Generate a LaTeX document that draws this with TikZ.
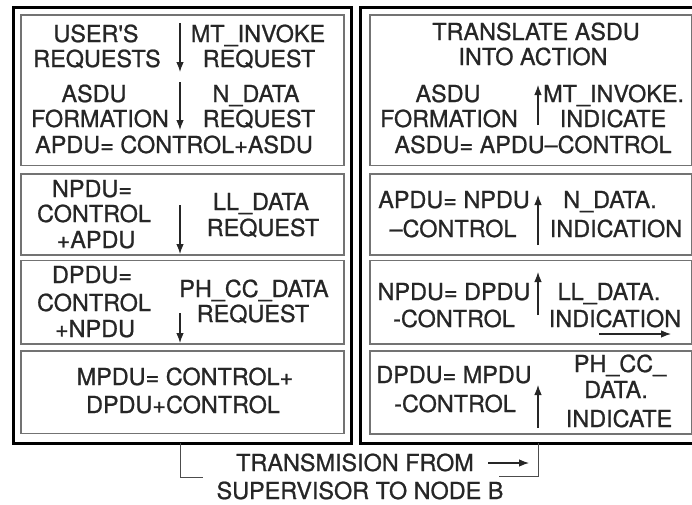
\documentclass[tikz,border=0pt]{standalone}
\usepackage{fontspec}
\setmainfont{TeX Gyre Heros}[RawFeature={embolden=0.9}]
\usetikzlibrary{arrows.meta}
\begin{document}
\begin{tikzpicture}[x=1pt,y=-1pt,
  lbl/.style={anchor=base, inner sep=0pt, font=\fontsize{23.4}{25}\selectfont, text=black!85},
  frame/.style={draw=black, line width=3pt, anchor=north west, inner sep=0pt},
  pane/.style={draw=black!55, line width=1.6pt, anchor=north west, inner sep=0pt},
  flow/.style={draw=black!85, line width=1.1pt, -{Latex[length=10pt,width=7.5pt]}},
  wire/.style={draw=black!70, line width=1pt}]
\useasboundingbox (0,0) rectangle (692,504);
% outer frames
\node[frame, minimum width=337.5pt, minimum height=436pt] (FL) at (12,5.5) {};
\node[frame, minimum width=345pt, minimum height=436pt] (FR) at (358.5,5.5) {};
% left panes
\node[pane, minimum width=323pt, minimum height=150.5pt] (L1) at (20,14) {};
\node[pane, minimum width=323pt, minimum height=81pt] (L2) at (20,173) {};
\node[pane, minimum width=323pt, minimum height=83.5pt] (L3) at (20,259.5) {};
\node[pane, minimum width=323pt, minimum height=82.5pt] (L4) at (20,350) {};
% right panes
\node[pane, minimum width=321.5pt, minimum height=150.5pt] (R1) at (369,14) {};
\node[pane, minimum width=321.5pt, minimum height=81pt] (R2) at (369,173) {};
\node[pane, minimum width=321.5pt, minimum height=83.5pt] (R3) at (369,259.5) {};
\node[pane, minimum width=321.5pt, minimum height=83pt] (R4) at (369,350) {};
% left pane 1 texts
\node[lbl] (t1) at (96,42) {USER\textquotesingle S};
\node[lbl] (t2) at (97,67) {REQUESTS};
\node[lbl] (t3) at (258,42) {MT\_INVOKE};
\node[lbl] (t4) at (259,67) {REQUEST};
\node[lbl] (t5) at (94,102) {ASDU};
\node[lbl] (t6) at (100,127) {FORMATION};
\node[lbl] (t7) at (256,102) {N\_DATA};
\node[lbl] (t8) at (259,127) {REQUEST};
\node[lbl] (t9) at (174,153) {APDU= CONTROL+ASDU};
% right pane 1 texts
\node[lbl] (u1) at (536,40) {TRANSLATE ASDU};
\node[lbl] (u2) at (533,65) {INTO ACTION};
\node[lbl] (u3) at (448,102) {ASDU};
\node[lbl] (u4) at (449,127) {FORMATION};
\node[lbl, anchor=base west] (u5) at (543,102) {MT\_INVOKE.};
\node[lbl] (u6) at (613,127) {INDICATE};
\node[lbl] (u7) at (533,153) {ASDU= APDU–CONTROL};
% left pane 2
\node[lbl] (t10) at (92,197) {NPDU=};
\node[lbl] (t11) at (94,222) {CONTROL};
\node[lbl] (t12) at (96,248) {+APDU};
\node[lbl] (t13) at (261,210) {LL\_DATA};
\node[lbl] (t14) at (263,236) {REQUEST};
% left pane 3
\node[lbl] (t15) at (92,283) {DPDU=};
\node[lbl] (t16) at (94,311) {CONTROL};
\node[lbl] (t17) at (95,337) {+NPDU};
\node[lbl] (t18) at (254,297) {PH\_CC\_DATA};
\node[lbl] (t19) at (253,322) {REQUEST};
% left pane 4
\node[lbl] (t20) at (185,385) {MPDU= CONTROL+};
\node[lbl] (t21) at (183,413) {DPDU+CONTROL};
% right pane 2
\node[lbl] (u8) at (454,208) {APDU= NPDU};
\node[lbl] (u9) at (453,237) {–CONTROL};
\node[lbl] (u10) at (610,208) {N\_DATA.};
\node[lbl] (u11) at (616,237) {INDICATION};
% right pane 3
\node[lbl] (u12) at (454,300) {NPDU= DPDU};
\node[lbl] (u13) at (454,327) {-CONTROL};
\node[lbl] (u14) at (609,300) {LL\_DATA.};
\node[lbl] (u15) at (615,327) {INDICATION};
% right pane 4
\node[lbl] (u16) at (454,383) {DPDU= MPDU};
\node[lbl] (u17) at (455,412) {-CONTROL};
\node[lbl] (u18) at (620,372) {PH\_CC\_};
\node[lbl] (u19) at (616,398) {DATA.};
\node[lbl] (u20) at (619,427) {INDICATE};
% bottom caption
\node[lbl] (c1) at (355,471) {TRANSMISION FROM};
\node[lbl] (c2) at (360,499) {SUPERVISOR TO NODE B};
% arrow coordinates
\coordinate (a1s) at (180,23);  \coordinate (a1e) at (180,72);
\coordinate (a2s) at (180,82);  \coordinate (a2e) at (180,130);
\coordinate (a3s) at (180,205); \coordinate (a3e) at (180,254);
\coordinate (a4s) at (180,313); \coordinate (a4e) at (180,343);
\coordinate (b1s) at (538,125); \coordinate (b1e) at (538,85);
\coordinate (b2s) at (538,245); \coordinate (b2e) at (538,195);
\coordinate (b3s) at (538,315); \coordinate (b3e) at (538,272);
\coordinate (b4s) at (538,428); \coordinate (b4e) at (538,385);
\coordinate (hs) at (599,334);  \coordinate (he) at (671,334);
\coordinate (cs) at (488,463);  \coordinate (ce) at (529,463);
\coordinate (k1) at (180,443);  \coordinate (k2) at (180,477); \coordinate (k3) at (203,477);
\coordinate (k4) at (499,476);  \coordinate (k5) at (538,476); \coordinate (k6) at (538,443);
\draw[flow] (a1s) -- (a1e);
\draw[flow] (a2s) -- (a2e);
\draw[flow] (a3s) -- (a3e);
\draw[flow] (a4s) -- (a4e);
\draw[flow] (b1s) -- (b1e);
\draw[flow] (b2s) -- (b2e);
\draw[flow] (b3s) -- (b3e);
\draw[flow] (b4s) -- (b4e);
\draw[flow] (hs) -- (he);
\draw[flow] (cs) -- (ce);
\draw[wire] (k1) -- (k2) -- (k3);
\draw[wire] (k4) -- (k5) -- (k6);
\end{tikzpicture}
\end{document}
